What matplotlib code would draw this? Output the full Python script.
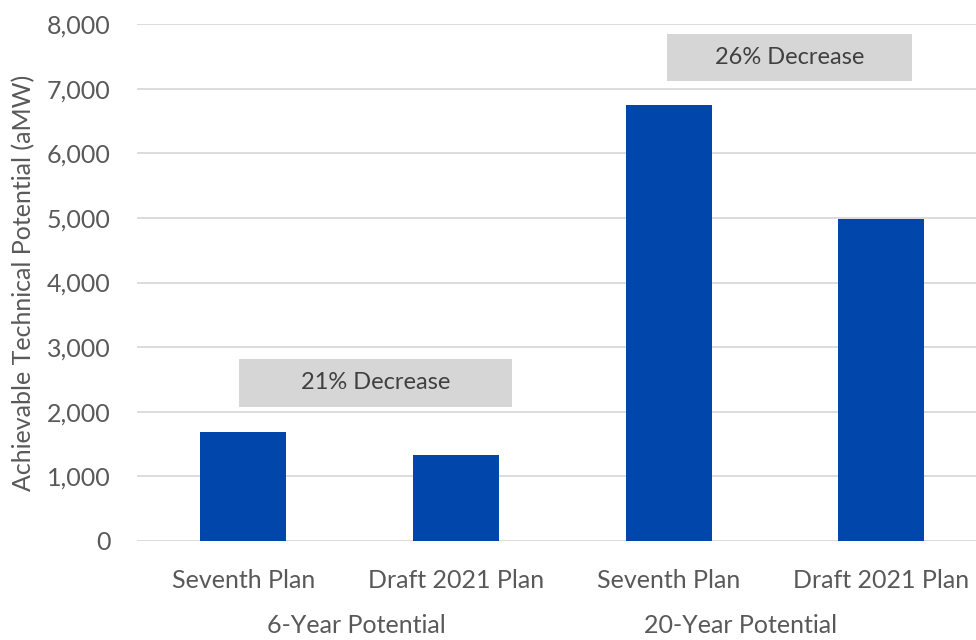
import matplotlib.pyplot as plt
from matplotlib.patches import Rectangle
from matplotlib.ticker import FuncFormatter
from matplotlib.transforms import blended_transform_factory

plans = ['Seventh Plan', 'Draft 2021 Plan', 'Seventh Plan', 'Draft 2021 Plan']
groups = ['6-Year Potential', '20-Year Potential']
potential = [1690, 1330, 6750, 4990]
notes = ['21% Decrease', '26% Decrease']

plt.rcParams['font.family'] = ['Lato', 'DejaVu Sans']
grey = '#595959'

fig = plt.figure(figsize=(9.76, 6.4), dpi=100)
ax = fig.add_axes([137 / 976, 99 / 640, 839 / 976, 517 / 640])

x = range(len(potential))
ax.bar(x, potential, width=0.404, color='#0046AB', zorder=3)

ax.set_xlim(-0.5, 3.445)
ax.set_ylim(0, 8000)
ax.set_yticks(range(0, 8001, 1000))
ax.yaxis.set_major_formatter(FuncFormatter(lambda v, p: f'{int(v):,}'))
ax.grid(axis='y', color='#d9d9d9', linewidth=1.3, zorder=0)
for s in ax.spines.values():
    s.set_visible(False)

ax.set_xticks(list(x))
ax.set_xticklabels(plans)
ax.tick_params(axis='both', length=0, labelsize=18, labelcolor=grey)
ax.tick_params(axis='y', pad=19)
ax.tick_params(axis='x', pad=20)
ax.set_ylabel('Achievable Technical Potential (aMW)', fontsize=18, color=grey, labelpad=8)

# group labels under the category labels
trans = blended_transform_factory(ax.transData, ax.transAxes)
for gx, g in zip([0.53, 2.34], groups):
    ax.text(gx, -0.178, g, transform=trans, ha='center', va='baseline',
            fontsize=18, color=grey)

# grey note boxes
boxes = [(-0.02, 2074, 1.283, 742), (1.992, 7118, 1.152, 727)]
for (bx, by, bw, bh), n in zip(boxes, notes):
    ax.add_patch(Rectangle((bx, by), bw, bh, facecolor='#d6d6d6', edgecolor='none', zorder=4))
    ax.text(bx + bw / 2, by + bh / 2, n, ha='center', va='center',
            fontsize=17, color='#404040', zorder=5)

fig.savefig('out.png', dpi=100)
